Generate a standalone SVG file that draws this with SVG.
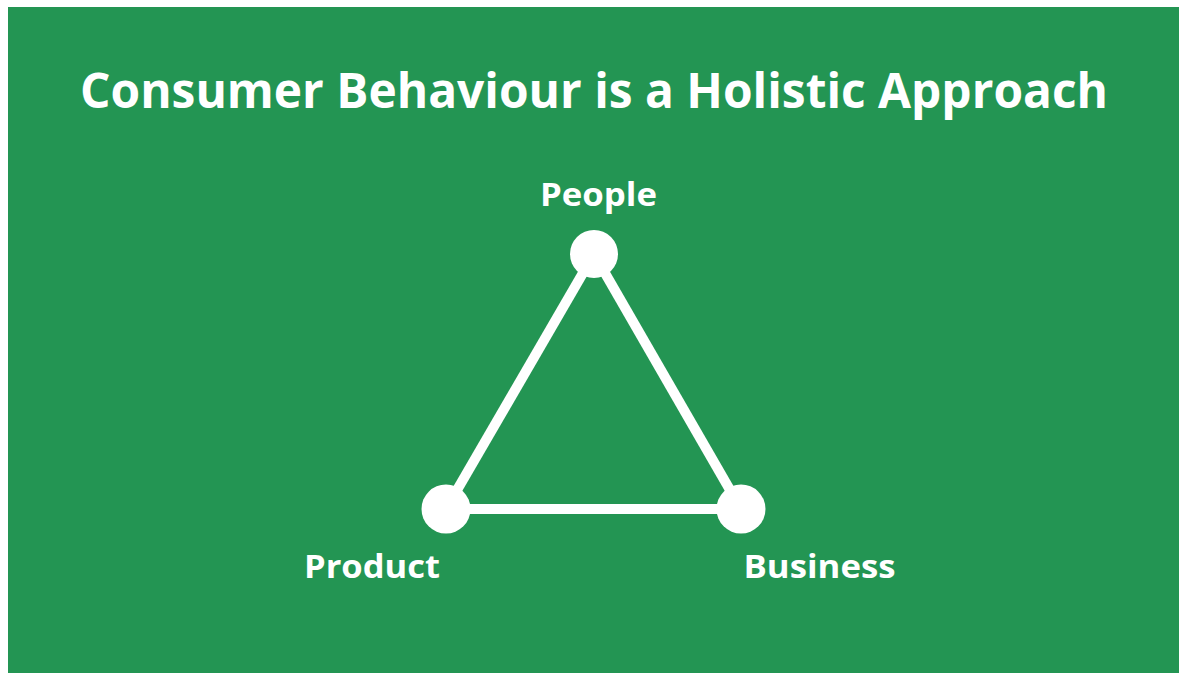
<svg xmlns="http://www.w3.org/2000/svg" width="1179" height="673" viewBox="0 0 1179 673">
  <style>
    .t { font-family: "Open Sans", "Liberation Sans", sans-serif; font-weight: 700; fill: #ffffff; text-anchor: middle; }
    .edge { stroke: #ffffff; stroke-width: 10; fill: none; }
    .dot { fill: #ffffff; }
  </style>
  <rect x="0" y="0" width="1179" height="673" fill="#ffffff"/>
  <rect x="8" y="7" width="1171" height="666" fill="#239553"/>
  <text class="t" x="594" y="108" font-size="48" textLength="1028" lengthAdjust="spacingAndGlyphs">Consumer Behaviour is a Holistic Approach</text>
  <g id="connectors">
    <line class="edge" x1="594" y1="254" x2="446" y2="509"/>
    <line class="edge" x1="446" y1="509" x2="741" y2="509"/>
    <line class="edge" x1="741" y1="509" x2="594" y2="254"/>
  </g>
  <g id="people">
    <circle class="dot" cx="594" cy="254" r="24"/>
    <text class="t" x="598.5" y="206" font-size="33" textLength="117" lengthAdjust="spacingAndGlyphs">People</text>
  </g>
  <g id="product">
    <circle class="dot" cx="446" cy="509" r="24.5"/>
    <text class="t" x="372" y="578" font-size="33" textLength="136" lengthAdjust="spacingAndGlyphs">Product</text>
  </g>
  <g id="business">
    <circle class="dot" cx="741" cy="509" r="24.5"/>
    <text class="t" x="819.5" y="578" font-size="33" textLength="152" lengthAdjust="spacingAndGlyphs">Business</text>
  </g>
</svg>
